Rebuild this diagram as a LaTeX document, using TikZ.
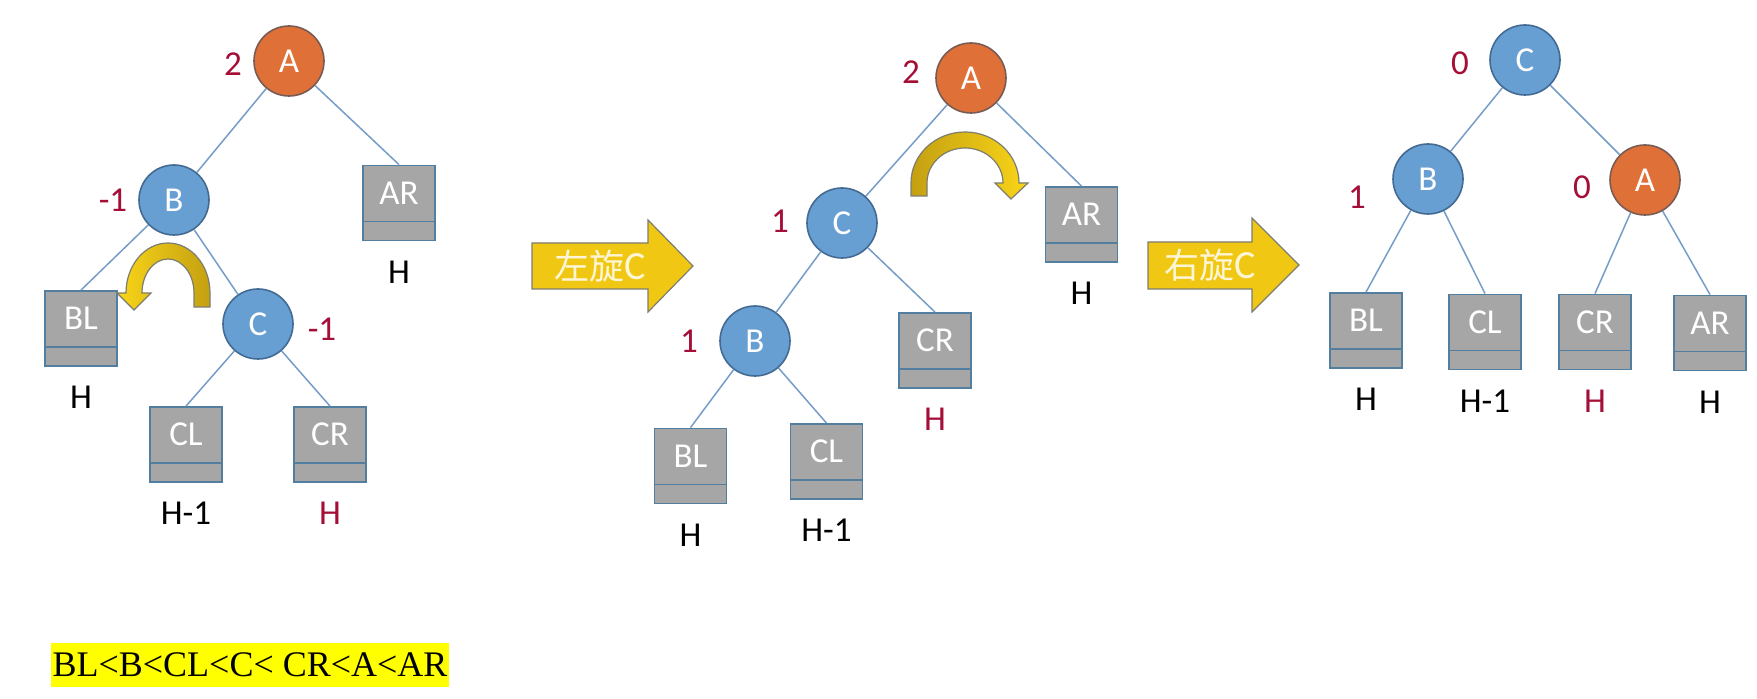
\documentclass[tikz,border=0pt]{standalone}
\usepackage{fontspec}
\setmainfont{Carlito}
\newfontfamily\cjkfont{Noto Sans CJK SC}
\newfontfamily\timesfont{Liberation Serif}
\definecolor{edgec}{RGB}{118,156,200}
\definecolor{bluefill}{RGB}{104,159,210}
\definecolor{blueline}{RGB}{66,106,146}
\definecolor{orangefill}{RGB}{223,112,55}
\definecolor{orangeline}{RGB}{120,92,84}
\definecolor{boxgray}{RGB}{166,166,166}
\definecolor{boxline}{RGB}{82,126,160}
\definecolor{bfred}{RGB}{165,15,55}
\definecolor{arrowyellow}{RGB}{240,200,20}
\definecolor{arrowborder}{RGB}{125,125,112}
\definecolor{cgold}{RGB}{196,160,18}
\definecolor{cyellow}{RGB}{249,213,24}
\definecolor{arrowtxt}{RGB}{255,246,214}
\definecolor{hilite}{RGB}{255,255,0}
\tikzset{
  treefont/.style={font=\fontsize{17.5pt}{20pt}\selectfont},
  bluenode/.style={circle, draw=blueline, line width=0.8pt, fill=bluefill, minimum size=35pt, inner sep=0pt, text=white, treefont},
  orangenode/.style={circle, draw=orangeline, line width=0.8pt, fill=orangefill, minimum size=35pt, inner sep=0pt, text=white, treefont},
  gbox/.style={rectangle, draw=boxline, line width=0.9pt, fill=boxgray, minimum width=36pt, minimum height=37.5pt, inner sep=0pt,
    path picture={\draw[boxline, line width=0.9pt] ([yshift=9.5pt]path picture bounding box.south west) -- ([yshift=9.5pt]path picture bounding box.south east);},
    label={[text=white, treefont, inner sep=0pt, yshift=5pt]center:#1}},
  hl/.style={label={[treefont, inner sep=0pt, label distance=9.5pt]below:#1}},
  hlred/.style={label={[treefont, text=bfred, inner sep=0pt, label distance=9.5pt]below:#1}},
  bf/.style={treefont, text=bfred, inner sep=0pt},
  edge/.style={draw=edgec, line width=0.75pt},
  bigarrow/.style={fill=arrowyellow, draw=arrowborder, line width=0.6pt},
  curvearrow/.style={draw=arrowborder, line width=0.6pt},
  arrowtext/.style={text=arrowtxt, font=\fontsize{20pt}{22pt}\selectfont, inner sep=0pt},
}
\begin{document}
\begin{tikzpicture}[x=0.5pt, y=-0.5pt]
\useasboundingbox[fill=white] (0,0) rectangle (1757,699);

% ---------- Tree 1 ----------
\node[orangenode] (A1) at (289,61) {A};
\node[bluenode] (B1) at (174,200) {B};
\node[bluenode] (C1) at (258,324) {C};
\node[gbox=AR, hl=H] (AR1) at (399,203) {};
\node[gbox=BL, hl=H] (BL1) at (81,328.5) {};
\node[gbox=CL, hl=H-1] (CL1) at (186,444.5) {};
\node[gbox=CR, hlred=H] (CR1) at (330,444.5) {};
\node[bf] (bfA1) at (233,64) {2};
\node[bf] (bfB1) at (113,200) {-1};
\node[bf] (bfC1) at (322,329) {-1};
\draw[edge] (A1) -- (B1);
\draw[edge] (A1) -- (AR1.north);
\draw[edge] (B1) -- (BL1.north);
\draw[edge] (B1) -- (C1);
\draw[edge] (C1) -- (CL1.north);
\draw[edge] (C1) -- (CR1.north);
\path[curvearrow, left color=cyellow, right color=cgold]
  (210,307) -- (210,293) arc[start angle=0, end angle=-180, x radius=42, y radius=50]
  -- (117,293) -- (134,310) -- (151,293) -- (142,293)
  arc[start angle=180, end angle=360, x radius=26, y radius=34]
  -- (194,307) -- cycle;

% ---------- Arrow 1 ----------
\path[bigarrow] (532,243) -- (648,243) -- (648,220) -- (693,266) -- (648,312) -- (648,289) -- (532,289) -- cycle;
\node[arrowtext] (rotL) at (600,266) {{\cjkfont\fontsize{17.5pt}{22pt}\selectfont 左旋}C};

% ---------- Tree 2 ----------
\node[orangenode] (A2) at (971,78) {A};
\node[bluenode] (C2) at (842,223) {C};
\node[bluenode] (B2) at (755,341) {B};
\node[gbox=AR, hl=H] (AR2) at (1081.5,224.5) {};
\node[gbox=CR, hlred=H] (CR2) at (935,350.5) {};
\node[gbox=BL, hl=H] (BL2) at (690.5,466) {};
\node[gbox=CL, hl=H-1] (CL2) at (826.5,461.5) {};
\node[bf] (bfA2) at (911,72) {2};
\node[bf] (bfC2) at (780,221) {1};
\node[bf] (bfB2) at (689,341) {1};
\draw[edge] (A2) -- (C2);
\draw[edge] (A2) -- (AR2.north);
\draw[edge] (C2) -- (B2);
\draw[edge] (C2) -- (CR2.north);
\draw[edge] (B2) -- (BL2.north);
\draw[edge] (B2) -- (CL2.north);
\path[curvearrow, left color=cgold, right color=cyellow]
  (911,196) -- (911,183) arc[start angle=180, end angle=360, x radius=54, y radius=51]
  -- (1028,183) -- (1011,199) -- (995,183) -- (1003,183)
  arc[start angle=0, end angle=-180, x radius=38, y radius=35]
  -- (927,196) -- cycle;

% ---------- Arrow 2 ----------
\path[bigarrow] (1148,242) -- (1252,242) -- (1252,218) -- (1299,265) -- (1252,312) -- (1252,289) -- (1148,289) -- cycle;
\node[arrowtext] (rotR) at (1210,265) {{\cjkfont\fontsize{17.5pt}{22pt}\selectfont 右旋}C};

% ---------- Tree 3 ----------
\node[bluenode] (C3) at (1525,60) {C};
\node[bluenode] (B3) at (1428,179) {B};
\node[orangenode] (A3) at (1645,180) {A};
\node[gbox=BL, hl=H] (BL3) at (1366,330.5) {};
\node[gbox=CL, hl=H-1] (CL3) at (1485,332) {};
\node[gbox=CR, hlred=H] (CR3) at (1595,332) {};
\node[gbox=AR, hl=H] (AR3) at (1710,333) {};
\node[bf] (bfC3) at (1460,63) {0};
\node[bf] (bfB3) at (1357,197) {1};
\node[bf] (bfA3) at (1582,187) {0};
\draw[edge] (C3) -- (B3);
\draw[edge] (C3) -- (A3);
\draw[edge] (B3) -- (BL3.north);
\draw[edge] (B3) -- (CL3.north);
\draw[edge] (A3) -- (CR3.north);
\draw[edge] (A3) -- (AR3.north);

% ---------- Order ----------
\node[fill=hilite, inner xsep=1pt, inner ysep=0pt, minimum height=22pt, font=\timesfont\fontsize{18pt}{20pt}\selectfont] (order) at (250,665) {BL<B<CL<C< CR<A<AR};
\end{tikzpicture}
\end{document}
